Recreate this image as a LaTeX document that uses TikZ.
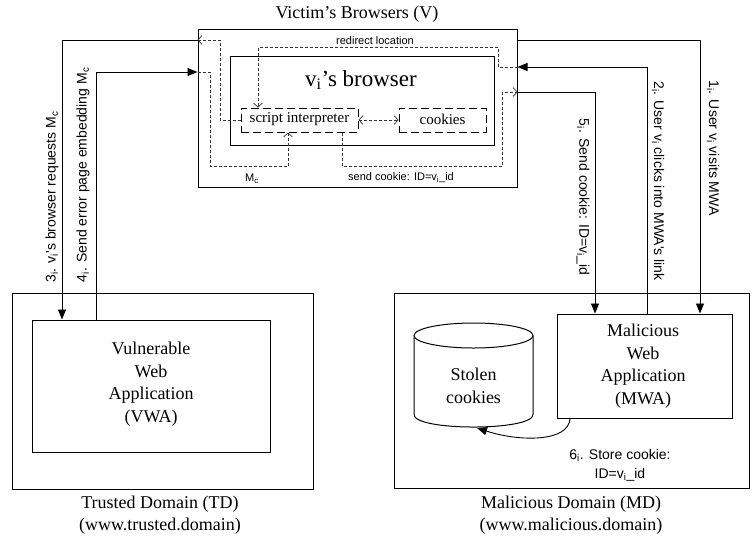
\documentclass[tikz,border=0pt]{standalone}
\usepackage{fontspec}
\setmainfont{Liberation Serif}
\newfontfamily\lblfont{Liberation Sans}
\usetikzlibrary{arrows.meta,calc}
\tikzset{
  box/.style={draw, line width=1pt, inner sep=0pt},
  dbox/.style={draw, line width=1pt, inner sep=0pt, dash pattern=on 8pt off 4pt},
  serif/.style={font=\fontsize{18}{22.5}\selectfont, align=center},
  small/.style={font=\lblfont\fontsize{11}{13}\selectfont, inner sep=1pt},
  rlabel/.style={font=\lblfont\fontsize{14}{16}\selectfont, inner sep=1pt},
  arr/.style={draw, line width=0.9pt, -{Triangle[length=10pt,width=8pt]}},
  plain/.style={draw, line width=0.9pt},
  darr/.style={draw, line width=0.7pt, dash pattern=on 3pt off 2pt, black!80, -{Straight Barb[length=4pt,width=9pt]}},
  ddarr/.style={draw, line width=0.7pt, dash pattern=on 3pt off 2pt, black!80, {Straight Barb[length=4pt,width=9pt]}-{Straight Barb[length=4pt,width=9pt]}},
  dline/.style={draw, line width=0.7pt, dash pattern=on 3pt off 2pt, black!80},
}
\begin{document}
\begin{tikzpicture}[x=1pt,y=-1pt]
\useasboundingbox (0,0) rectangle (753,539);
% outer boxes
\node[box, minimum width=319, minimum height=158] (V) at (357.5,108) {};
\node[serif] (Vt) at (357,14) {Victim's Browsers (V)};
\node[box, minimum width=264, minimum height=89] (B) at (362,100.5) {};
\node[font=\fontsize{23}{26}\selectfont] (Bt) at (361,80) {v\textsubscript{i}'s browser};
\node[dbox, minimum width=117, minimum height=24] (si) at (299.5,120) {};
\node[font=\fontsize{15}{17}\selectfont] (sit) at (299.5,119) {script interpreter};
\node[dbox, minimum width=87, minimum height=24] (ck) at (442.5,120) {};
\node[font=\fontsize{15}{17}\selectfont] (ckt) at (442.5,119) {cookies};

\node[box, minimum width=301, minimum height=196] (TD) at (162.5,391) {};
\node[box, minimum width=238, minimum height=132] (VWA) at (151,386) {};
\node[serif] (VWAt) at (151,384) {Vulnerable\\Web\\Application\\(VWA)};
\node[serif] (TDl) at (160,515) {Trusted Domain (TD)\\(www.trusted.domain)};

\node[box, minimum width=355, minimum height=195] (MD) at (571.5,390.5) {};
\node[box, minimum width=175, minimum height=104] (MWA) at (644.5,366) {};
\node[serif] (MWAt) at (643,366) {Malicious\\Web\\Application\\(MWA)};
\node[serif] (MDl) at (571,515) {Malicious Domain (MD)\\(www.malicious.domain)};

% cylinder
\node[minimum width=119, minimum height=104, inner sep=0pt] (db) at (473.5,375) {};
\draw[line width=1pt] (473.5,335.5) ellipse [x radius=59.5, y radius=12.5];
\draw[line width=1pt] (414,335.5) -- (414,414.5) .. controls (414,431.2) and (533,431.2) .. (533,414.5) -- (533,335.5);
\node[serif] (dbt) at (473.5,386) {Stolen\\cookies};

% helper coordinates
\coordinate (x62) at (62,0);
\coordinate (x96) at (96,0);
\coordinate (x595) at (595,0);
\coordinate (x647) at (647,0);
\coordinate (x700) at (700,0);
\coordinate (y40) at (0,40);
\coordinate (y67) at (0,67);
\coordinate (y72) at (0,72);
\coordinate (y92) at (0,92);

% 1: visits MWA
\draw[arr] (V.east |- y40) -| (MWA.north -| x700);
\node[rlabel, rotate=-90] (l1) at (713,148) {1\textsubscript{i}. User v\textsubscript{i} visits MWA};
% 2: clicks link
\draw[arr] (MWA.north -| x647) |- (V.east |- y67);
\node[rlabel, rotate=-90] (l2) at (658,181) {2\textsubscript{i}. User v\textsubscript{i} clicks into MWA's link};
\draw[darr] (V.east |- y67) -- (498,67) |- (258,47) -- (si.north -| 258,0);
\node[small] (rl) at (375,41) {redirect location};
% 3: browser requests
\draw[darr] (si.west) -- (220,120) |- (V.west |- y40);
\draw[arr] (V.west |- y40) -| (VWA.north -| x62);
\node[rlabel, rotate=90] (l3) at (52,197) {3\textsubscript{i}. v\textsubscript{i}'s browser requests M\textsubscript{c}};
% 4: error page
\draw[arr] (VWA.north -| x96) |- (V.west |- y72);
\draw[darr] (V.west |- y72) -- (210,72) |- (288,166) -- (si.south -| 288,0);
\node[rlabel, rotate=90] (l4) at (83,175) {4\textsubscript{i}. Send error page embedding M\textsubscript{c}};
\node[small] (mc) at (252,179) {M\textsubscript{c}};
% 5: send cookie
\draw[darr] (si.south -| 342,0) |- (502,166) |- (V.east |- y92);
\draw[arr] (V.east |- y92) -| (MWA.north -| x595);
\node[rlabel, rotate=-90] (l5) at (583,197) {5\textsubscript{i}. Send cookie: ID=v\textsubscript{i}\_id};
\node[small] (sc) at (401,178) {send cookie: ID=v\textsubscript{i}\_id};
% script <-> cookies
\draw[ddarr] (si.east) -- (ck.west);
% 6: store cookie
\draw[arr] (MWA.south -| 570,0) .. controls (569,442) and (520,442) .. (477,428);
\node[rlabel, align=center, font=\lblfont\fontsize{14}{19}\selectfont] (l6) at (620,465) {6\textsubscript{i}. Store cookie:\\ID=v\textsubscript{i}\_id};
\end{tikzpicture}
\end{document}
